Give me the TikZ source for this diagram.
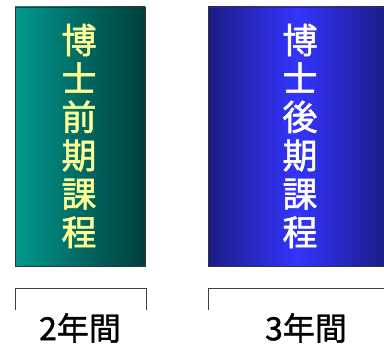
\documentclass[tikz,border=0pt]{standalone}
\usepackage{fontspec}
\newfontfamily\jpfont[FakeBold=1.6]{Noto Sans CJK JP}
\newfontfamily\jplabel[FakeBold=1.2]{Noto Sans CJK JP}
\usetikzlibrary{positioning}
\definecolor{tealL}{RGB}{0,152,142}
\definecolor{tealR}{RGB}{0,62,58}
\definecolor{navyE}{RGB}{28,28,135}
\definecolor{blueM}{RGB}{52,52,255}
\definecolor{paleyellow}{RGB}{255,255,150}

\begin{document}
\begin{tikzpicture}
  [x=1pt,y=-1pt,
  course/.style={draw=black!80,line width=0.6pt,inner sep=0pt},
  coursetext/.style={font=\jpfont\fontsize{35}{38.4}\selectfont,align=center,inner sep=0pt},
  years/.style={font=\jplabel\fontsize{32}{34}\selectfont,inner sep=0pt},
  bracket/.style={draw=black!75,line width=0.7pt}]
  \useasboundingbox (0,0) rectangle (384,344);
  % courses
  \shade[left color=tealL,right color=tealR] (15,7) rectangle (145,266);
  \draw[course] (15,7) rectangle (145,266);
  \shade[left color=navyE,right color=blueM] (208,7) rectangle (297,266);
  \shade[left color=blueM,right color=navyE] (297,7) rectangle (386,266);
  \draw[course] (208,7) rectangle (386,266);
  \node[coursetext,text=paleyellow] (mae) at (79,136) {博\\士\\前\\期\\課\\程};
  \node[coursetext,text=white] (ato) at (300,136) {博\\士\\後\\期\\課\\程};
  % brackets
  \draw[bracket] (15,310) -- (15,288) -- (146,288) -- (146,310);
  \draw[bracket] (208,310) -- (208,288) -- (390,288);
  \node[years] (two) at (80,328) {2年間};
  \node[years] (three) at (306,328) {3年間};
\end{tikzpicture}
\end{document}
